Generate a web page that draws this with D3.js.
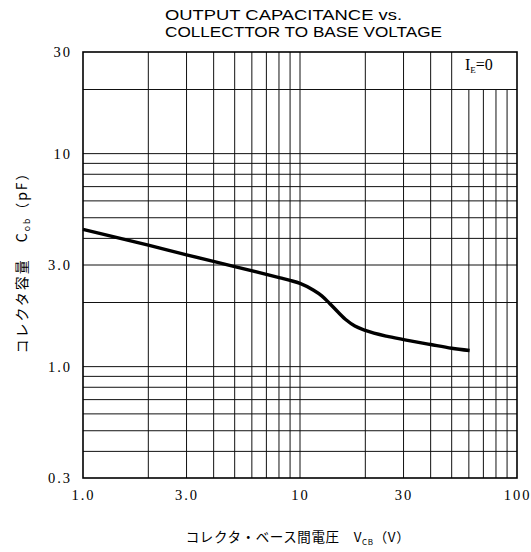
<!DOCTYPE html>
<html><head><meta charset="utf-8">
<script src="https://cdn.jsdelivr.net/npm/d3@7"></script>
<style>body{margin:0;background:#fff}svg{display:block}</style>
</head><body>
<svg id="c" width="531" height="552"></svg>
<script>
const titleLines = ["OUTPUT CAPACITANCE vs.", "COLLECTTOR TO BASE VOLTAGE"];
const xTickValues = [1, 3, 10, 30, 100];
const xTickLabels = ["1.0", "3.0", "10", "30", "100"];
const yTickValues = [0.3, 1, 3, 10, 30];
const yTickLabels = ["0.3", "1.0", "3.0", "10", "30"];
const xGridValues = [2, 3, 4, 5, 6, 7, 8, 9, 10, 20, 30, 40, 50];
const xGridShortValues = [60, 70, 80, 90];
const yGridValues = [0.4, 0.5, 0.6, 0.7, 0.8, 0.9, 1, 2, 3, 4, 5, 6, 7, 8, 9, 10, 20];
const vcb = [1, 2, 3, 5, 8.1, 9.0, 10, 11.5, 12.6, 13.7, 15.0, 16.4, 17.9, 20, 25, 30, 40, 50, 60.5];
const cob = [4.41, 3.72, 3.35, 2.95, 2.61, 2.54, 2.46, 2.29, 2.15, 1.98, 1.80, 1.65, 1.55, 1.48, 1.39, 1.34, 1.27, 1.22, 1.19];
const legendLabel = {main: "I", sub: "E", rest: "=0"};
const xLabel = {main: "コレクタ・ベース間電圧　V", sub: "CB", rest: "（V）"};
const yLabel = {main: "コレクタ容量　C", sub: "ob", rest: "（pF）"};

const svg = d3.select("#c");
const x = d3.scaleLog().domain([1, 100]).range([83, 517]);
const y = d3.scaleLog().domain([0.3, 30]).range([478, 52]);
const [x0, x1] = x.range();
const [yb, yt] = y.range();

// grid
const g = svg.append("g").attr("stroke", "#111").attr("stroke-width", 1);
g.selectAll("line.v").data(xGridValues).join("line")
  .attr("x1", d => x(d)).attr("x2", d => x(d)).attr("y1", yt).attr("y2", yb);
g.selectAll("line.vs").data(xGridShortValues).join("line")
  .attr("x1", d => x(d)).attr("x2", d => x(d)).attr("y1", y(20)).attr("y2", yb);
g.selectAll("line.h").data(yGridValues).join("line")
  .attr("x1", x0).attr("x2", x1).attr("y1", d => y(d)).attr("y2", d => y(d));

// frame
svg.append("rect").attr("x", x0).attr("y", yt).attr("width", x1 - x0).attr("height", yb - yt)
  .attr("fill", "none").attr("stroke", "#000").attr("stroke-width", 1.6);

// curve
const line = d3.line().x(d => x(d[0])).y(d => y(d[1])).curve(d3.curveMonotoneX);
svg.append("path").datum(vcb.map((v, i) => [v, cob[i]]))
  .attr("d", line).attr("fill", "none").attr("stroke", "#000")
  .attr("stroke-width", 3.4).attr("stroke-linecap", "butt").attr("stroke-linejoin", "round");

const serif = "'Liberation Serif','DejaVu Serif',serif";
const xa = svg.append("g").attr("transform", `translate(0,${yb})`)
  .call(d3.axisBottom(x).tickValues(xTickValues).tickSize(0).tickPadding(12)
    .tickFormat((d, i) => xTickLabels[i]));
xa.select(".domain").remove();
xa.selectAll("text").style("font-family", serif).style("font-size", "14.5px")
  .style("letter-spacing", "2px").attr("fill", "#000");

const ya = svg.append("g").attr("transform", `translate(${x0},0)`)
  .call(d3.axisLeft(y).tickValues(yTickValues).tickSize(0).tickPadding(11)
    .tickFormat((d, i) => yTickLabels[i]));
ya.select(".domain").remove();
ya.selectAll("text").style("font-family", serif).style("font-size", "14.5px")
  .style("letter-spacing", "2px").attr("fill", "#000");

// title
svg.append("g").selectAll("text").data(titleLines).join("text")
  .attr("x", 165).attr("y", (d, i) => 20 + i * 17)
  .style("font-family", "'Liberation Sans',Arial,sans-serif").style("font-size", "15px")
  .attr("textLength", (d, i) => i === 0 ? 237 : 277).attr("lengthAdjust", "spacingAndGlyphs")
  .attr("fill", "#000").text(d => d);

// legend
const lt = svg.append("text").attr("x", 465).attr("y", 70)
  .style("font-family", serif).style("font-size", "16px").attr("fill", "#000");
lt.append("tspan").text(legendLabel.main);
lt.append("tspan").style("font-size", "9px").attr("dy", 3).text(legendLabel.sub);
lt.append("tspan").attr("dy", -3).text(legendLabel.rest);

// x axis title
const cjk = "'Noto Sans CJK JP','Noto Sans CJK SC',sans-serif";
const xt = svg.append("text").attr("x", 298).attr("y", 542).attr("text-anchor", "middle")
  .style("font-family", cjk).style("font-size", "13.5px").style("letter-spacing", "0.6px").attr("fill", "#000");
xt.append("tspan").text(xLabel.main);
xt.append("tspan").style("font-size", "8px").attr("dy", 3).text(xLabel.sub);
xt.append("tspan").attr("dy", -3).text(xLabel.rest);

// y axis title
const yl = svg.append("text").attr("transform", "translate(27,259) rotate(-90)")
  .attr("text-anchor", "middle")
  .style("font-family", cjk).style("font-size", "14px").style("letter-spacing", "2px").attr("fill", "#000");
yl.append("tspan").text(yLabel.main);
yl.append("tspan").style("font-size", "8.5px").attr("dy", 3).text(yLabel.sub);
yl.append("tspan").attr("dy", -3).text(yLabel.rest);
</script>
</body></html>
